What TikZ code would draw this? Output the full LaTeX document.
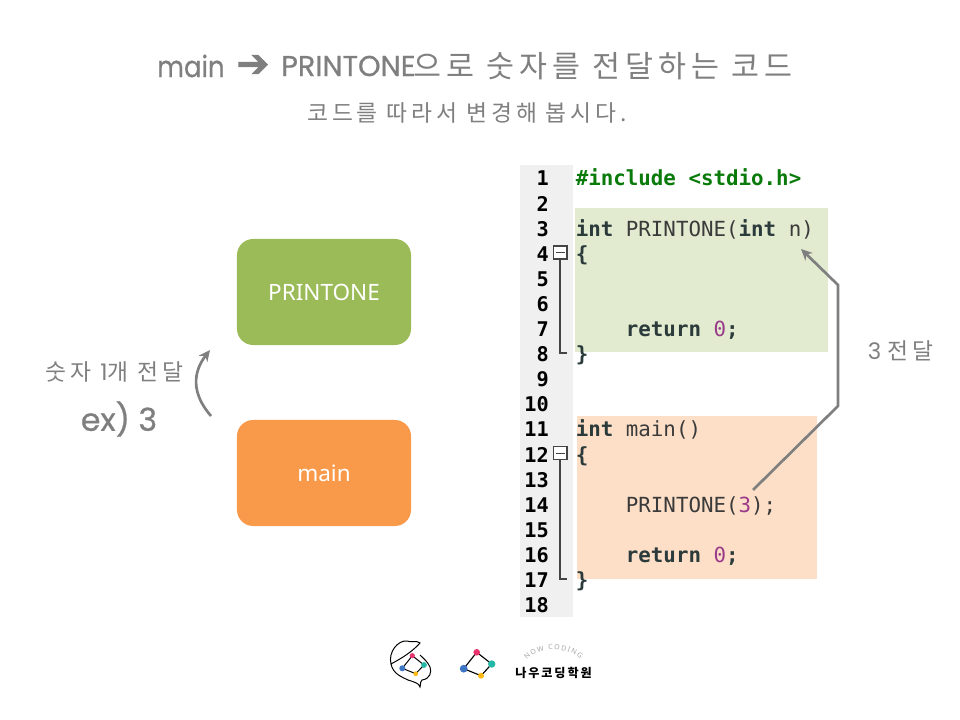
\documentclass[tikz,border=0pt]{standalone}
\usepackage{fontspec}
\usetikzlibrary{arrows.meta,decorations.text}
\setmainfont{Noto Sans}
\newfontfamily\korfont[LetterSpace=17]{Noto Sans CJK KR}
\newfontfamily\latfont{Poppins}
\newfontfamily\latheavy[FakeBold=0.7]{Poppins}
\newfontfamily\symfont[FakeBold=1.5]{DejaVu Sans}
\newfontfamily\codefont{DejaVu Sans Mono}
\newfontfamily\logofont[LetterSpace=16]{Noto Sans CJK KR}
\definecolor{txtgray}{HTML}{7F7F7F}
\definecolor{gutter}{HTML}{F0F0F0}
\definecolor{greenbox}{HTML}{9BBB59}
\definecolor{orangebox}{HTML}{F99A4A}
\definecolor{greenback}{HTML}{E2EBD0}
\definecolor{orangeback}{HTML}{FDDFC7}
\definecolor{codedark}{HTML}{2B3A3A}
\definecolor{codeplain}{HTML}{3A3A3A}
\definecolor{codegreen}{HTML}{0A7A0A}
\definecolor{codenum}{HTML}{9A3A8A}
\definecolor{foldline}{HTML}{444444}
\definecolor{logored}{HTML}{E8336D}
\definecolor{logoteal}{HTML}{22B8A5}
\definecolor{logoyellow}{HTML}{FDB913}
\definecolor{logoblue}{HTML}{3F76C4}
\tikzset{
  funcbox/.style={rounded corners=11.5pt,minimum width=4.35cm,minimum height=2.65cm,inner sep=0pt,text=white,font=\fontsize{16}{18}\selectfont},
  grayarrow/.style={draw=txtgray,line width=1.9pt,-{Stealth[length=8pt,width=7.5pt]}},
  linenum/.style={anchor=east,inner sep=0pt,text height=10pt,text depth=3pt,font=\codefont\bfseries\fontsize{14.4}{16}\selectfont,text=black},
  codeline/.style={anchor=west,inner sep=0pt,text height=10pt,text depth=3pt,font=\codefont\fontsize{14.8}{16}\selectfont,text=codeplain},
  graytext/.style={text=txtgray,inner sep=0pt}
}
\newcommand{\kwd}[1]{\textcolor{codedark}{\bfseries #1}}
\newcommand{\numc}[1]{\textcolor{codenum}{#1}}
\begin{document}
\begin{tikzpicture}[x=0.025cm,y=-0.025cm]
\useasboundingbox (0,0) rectangle (960,720);
% title
\node[graytext,anchor=west,xscale=0.88] (titlemain) at (157,66) {\fontsize{21}{24}\selectfont\latheavy main};
\node[graytext] (titlearrow) at (253,66) {\fontsize{28}{24}\selectfont\symfont ➔};
\node[graytext,anchor=west] (titlefunc) at (281,66) {\fontsize{20.4}{24}\selectfont\latheavy PRINTONE};
\node[graytext,anchor=west] (titlerest) at (413,66) {\fontsize{21.6}{24}\selectfont\korfont 으로 숫자를 전달하는 코드};
\node[graytext] (subtitle) at (467,113) {\fontsize{16.2}{18}\selectfont\korfont 코드를 따라서 변경해 봅시다.};
% left boxes
\node[funcbox,fill=greenbox] (printone) at (324,292) {\raisebox{-1.4pt}{PRINTONE}};
\node[funcbox,fill=orangebox] (mainbox) at (324,473) {\raisebox{-1.4pt}{main}};
\coordinate (bendfrom) at (211,416);
\coordinate (bendto) at (210,350);
\draw[grayarrow] (bendfrom) .. controls (191,393) and (193,372) .. (bendto);
\node[graytext] (sendone) at (114.5,372) {\fontsize{16.2}{18}\selectfont\korfont 숫자 \latfont 1\korfont 개 전달};
\node[graytext] (example) at (119,419) {\fontsize{22.5}{24}\selectfont\latheavy ex) 3};
% code panel
\fill[gutter] (520,165) rectangle (573,617);
\fill[greenback] (575,208) rectangle (828,352);
\fill[orangeback] (577,416) rectangle (817,579);
\foreach \n in {1,...,18}
  \node[linenum] (num\n) at (549,{181+25.1*(\n-1)}) {\n};
\node[codeline,text=codegreen] (line1) at (575.5,181.0) {\bfseries\#include <stdio.h>};
\node[codeline] (line3) at (575.5,231.2) {\kwd{int} PRINTONE(\kwd{int} n)};
\node[codeline] (line4) at (575.5,256.3) {\kwd{\{}};
\node[codeline] (line7) at (575.5,331.6) {\kwd{\ \ \ \ return} \numc{0}\kwd{;}};
\node[codeline] (line8) at (575.5,356.7) {\kwd{\}}};
\node[codeline] (line11) at (575.5,432.0) {\kwd{int} main()};
\node[codeline] (line12) at (575.5,457.1) {\kwd{\{}};
\node[codeline] (line14) at (575.5,507.3) {\ \ \ \ PRINTONE(\numc{3});};
\node[codeline] (line16) at (575.5,557.5) {\kwd{\ \ \ \ return} \numc{0}\kwd{;}};
\node[codeline] (line17) at (575.5,582.6) {\kwd{\}}};
% fold marks
\foreach \a/\b in {252.5/353,453/579}{
  \draw[foldline,line width=0.9pt] (560,{\a+6.5}) -- (560,\b) -- (567,\b);
  \draw[foldline,line width=0.9pt,fill=white] (553.5,{\a-6.5}) rectangle (567,{\a+6.5});
  \draw[foldline,line width=0.7pt] (556,\a) -- (564.5,\a);
}
% passing arrow
\coordinate (passfrom) at (753,490);
\coordinate (passa) at (838,406);
\coordinate (passb) at (838,285);
\coordinate (passto) at (801,249);
\draw[grayarrow,line join=miter] (passfrom) -- (passa) -- (passb) -- (passto);
\node[graytext] (sendthree) at (900.5,351) {\fontsize{16.2}{18}\selectfont\latfont 3 \korfont 전달};
% logo
\draw[black,line width=0.7pt,fill=white] (391,664) .. controls (388,652) and (398,640) .. (407,641)
  .. controls (412,643) and (416,640) .. (420,643) .. controls (412,652) and (402,658) .. (391,664)
  .. controls (393,674) and (402,677) .. (408,680) .. controls (414,682) and (419,683) .. (420,687)
  .. controls (421,683) and (420,681) .. (422,680) .. controls (430,679) and (432,672) .. (430,667)
  .. controls (427,661) and (424,659) .. (420,655);
\coordinate (sma) at (412.3,655.7);
\coordinate (smb) at (424,665);
\coordinate (smc) at (415.7,673.7);
\coordinate (smd) at (402.3,668.3);
\draw[black,line width=0.7pt] (sma) -- (smb) -- (smc) -- (smd) -- cycle;
\fill[logored] (sma) circle (2.6);
\fill[logoteal] (smb) circle (2.9);
\fill[logoyellow] (smc) circle (2.4);
\fill[logoblue] (smd) circle (3);
\coordinate (bga) at (476.7,652.3);
\coordinate (bgb) at (491.7,664);
\coordinate (bgc) at (481,675.7);
\coordinate (bgd) at (463.7,668.7);
\draw[black,line width=0.8pt] (bga) -- (bgb) -- (bgc) -- (bgd) -- cycle;
\fill[logored] (bga) circle (3.3);
\fill[logoteal] (bgb) circle (3.7);
\fill[logoyellow] (bgc) circle (3);
\fill[logoblue] (bgd) circle (3.9);
\path[decorate,decoration={text along path,text align={fit to path},text={|\fontsize{5}{6}\selectfont\color{gray!70}|NOW CODING}}]
  (527,659.5) .. controls (537,646.5) and (569,646.5) .. (580,659.5);
\node[inner sep=0pt] (logotext) at (553.5,673) {\fontsize{8.6}{10}\selectfont\logofont\bfseries 나우코딩학원};
\end{tikzpicture}
\end{document}
